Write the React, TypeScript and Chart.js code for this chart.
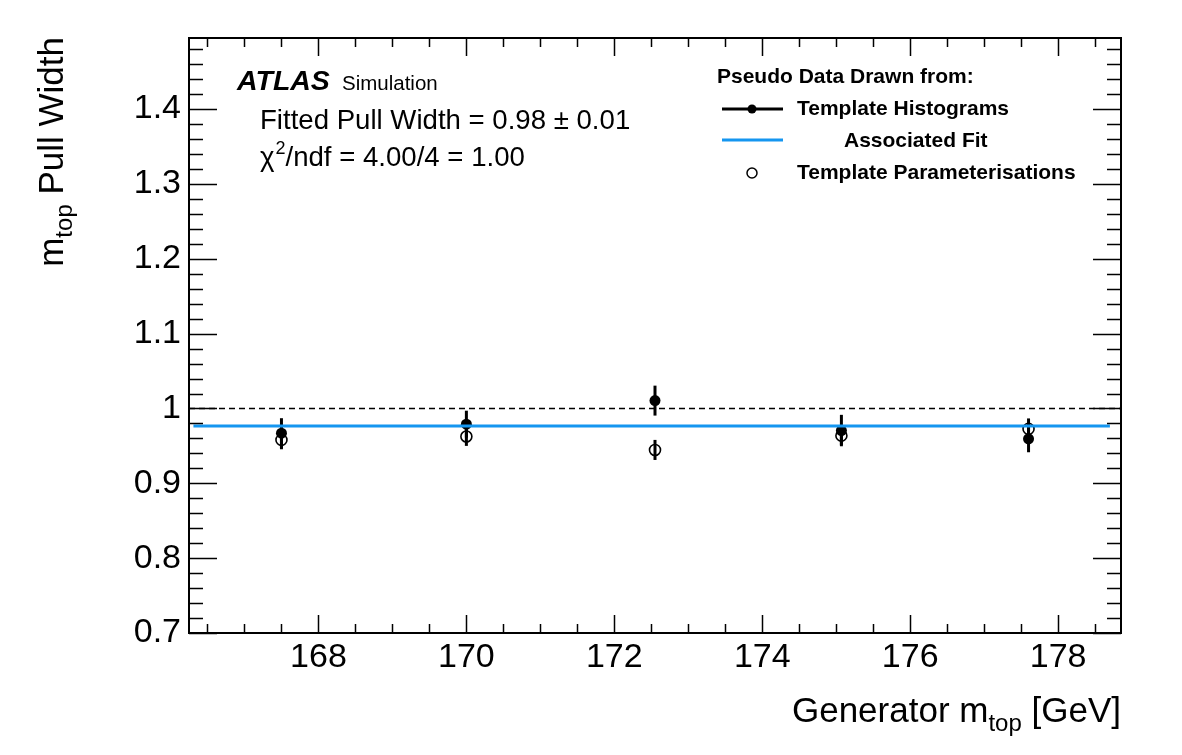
import React, { useEffect, useRef } from "react";
import { Chart, registerables } from "chart.js";

Chart.register(...registerables);

// ---- data ----
const genMass = [167.5, 170.0, 172.55, 175.07, 177.6];
const histWidth = [0.967, 0.979, 1.0105, 0.9705, 0.9595];
const histErr = [0.02, 0.018, 0.02, 0.021, 0.018];
const paramMass = [167.5, 170.0, 172.55, 175.07, 177.6];
const paramWidth = [0.958, 0.9625, 0.9446, 0.9637, 0.9727];
const paramErr = [0.0125, 0.0125, 0.0134, 0.0125, 0.014];
const fitValue = 0.9767;
const fitRange = [166.31, 178.7];
const referenceValue = 1.0;
const xRange = [166.25, 178.85];
const yRange = [0.7, 1.495];
const xTickValues = [168, 170, 172, 174, 176, 178];
const yTickValues = [0.7, 0.8, 0.9, 1.0, 1.1, 1.2, 1.3, 1.4];
const xMinorStep = 0.5;
const yMinorStep = 0.02;

const FONT = "'Liberation Sans', Arial, Helvetica, sans-serif";
const BLUE = "#1596f0";

const overlayPlugin = {
  id: "rootStyle",
  beforeDatasetsDraw(chart: any) {
    const ctx = chart.ctx;
    const xs = chart.scales.x;
    const ys = chart.scales.y;
    ctx.save();
    ctx.strokeStyle = "#000";
    ctx.lineWidth = 3;
    const bars = (xv: number[], yv: number[], ev: number[]) => {
      for (let i = 0; i < xv.length; i++) {
        const px = xs.getPixelForValue(xv[i]);
        ctx.beginPath();
        ctx.moveTo(px, ys.getPixelForValue(yv[i] - ev[i]));
        ctx.lineTo(px, ys.getPixelForValue(yv[i] + ev[i]));
        ctx.stroke();
      }
    };
    bars(paramMass, paramWidth, paramErr);
    bars(genMass, histWidth, histErr);
    ctx.restore();
  },
  afterDraw(chart: any) {
    const ctx = chart.ctx;
    const a = chart.chartArea;
    const xs = chart.scales.x;
    const ys = chart.scales.y;
    ctx.save();
    // frame
    ctx.strokeStyle = "#000";
    ctx.lineWidth = 2;
    ctx.strokeRect(a.left, a.top, a.right - a.left, a.bottom - a.top);
    // x ticks
    ctx.lineWidth = 1.5;
    const x0 = Math.ceil(xs.min / xMinorStep) * xMinorStep;
    for (let v = x0; v <= xs.max + 1e-9; v += xMinorStep) {
      const major = xTickValues.some((t) => Math.abs(t - v) < 1e-6);
      const len = major ? 18 : 9;
      const px = Math.round(xs.getPixelForValue(v)) + 0.5;
      ctx.beginPath();
      ctx.moveTo(px, a.bottom);
      ctx.lineTo(px, a.bottom - len);
      ctx.moveTo(px, a.top);
      ctx.lineTo(px, a.top + len);
      ctx.stroke();
    }
    // y ticks
    const y0 = Math.ceil(ys.min / yMinorStep - 1e-6) * yMinorStep;
    for (let v = y0; v <= ys.max + 1e-9; v += yMinorStep) {
      const major = yTickValues.some((t) => Math.abs(t - v) < 1e-6);
      const len = major ? 28 : 14;
      const py = Math.round(ys.getPixelForValue(v)) + 0.5;
      ctx.beginPath();
      ctx.moveTo(a.left, py);
      ctx.lineTo(a.left + len, py);
      ctx.moveTo(a.right, py);
      ctx.lineTo(a.right - len, py);
      ctx.stroke();
    }

    ctx.fillStyle = "#000";
    ctx.textBaseline = "alphabetic";
    // x axis title (right aligned)
    const tSize = 35;
    const subSize = 24;
    const t1 = "Generator m";
    const t2 = "top";
    const t3 = " [GeV]";
    ctx.font = `${tSize}px ${FONT}`;
    const w1 = ctx.measureText(t1).width;
    const w3 = ctx.measureText(t3).width;
    ctx.font = `${subSize}px ${FONT}`;
    const w2 = ctx.measureText(t2).width;
    const xEnd = a.right;
    const xBase = 722;
    let cx = xEnd - (w1 + w2 + w3);
    ctx.font = `${tSize}px ${FONT}`;
    ctx.fillText(t1, cx, xBase);
    cx += w1;
    ctx.font = `${subSize}px ${FONT}`;
    ctx.fillText(t2, cx, xBase + 9);
    cx += w2;
    ctx.font = `${tSize}px ${FONT}`;
    ctx.fillText(t3, cx, xBase);

    // y axis title (rotated), right-aligned at top of frame
    ctx.save();
    ctx.translate(63, a.top);
    ctx.rotate(-Math.PI / 2);
    const y1 = "m";
    const y2 = "top";
    const y3 = " Pull Width";
    ctx.font = `${tSize}px ${FONT}`;
    const v1 = ctx.measureText(y1).width;
    const v3 = ctx.measureText(y3).width;
    ctx.font = `${subSize}px ${FONT}`;
    const v2 = ctx.measureText(y2).width;
    let cy = -(v1 + v2 + v3) + 1;
    ctx.font = `${tSize}px ${FONT}`;
    ctx.fillText(y1, cy, 0);
    cy += v1;
    ctx.font = `${subSize}px ${FONT}`;
    ctx.fillText(y2, cy, 9);
    cy += v2;
    ctx.font = `${tSize}px ${FONT}`;
    ctx.fillText(y3, cy, 0);
    ctx.restore();

    // ATLAS label
    ctx.font = `italic bold 28.5px ${FONT}`;
    ctx.fillText("ATLAS", 237, 90);
    ctx.font = `20.5px ${FONT}`;
    ctx.fillText("Simulation", 342, 90);
    ctx.font = `27.6px ${FONT}`;
    ctx.fillText("Fitted Pull Width = 0.98 \u00b1 0.01", 260, 129);
    // chi2 line
    ctx.fillText("\u03c7", 260, 166);
    const wc = ctx.measureText("\u03c7").width;
    ctx.font = `18px ${FONT}`;
    ctx.fillText("2", 260 + wc + 1, 154);
    const w2s = ctx.measureText("2").width;
    ctx.font = `27.6px ${FONT}`;
    ctx.fillText("/ndf = 4.00/4 = 1.00", 260 + wc + 1 + w2s, 166);

    // legend
    ctx.font = `bold 21px ${FONT}`;
    ctx.fillText("Pseudo Data Drawn from:", 717, 83);
    ctx.fillText("Template Histograms", 797, 115);
    ctx.fillText("Associated Fit", 844, 147);
    ctx.fillText("Template Parameterisations", 797, 179);
    // legend symbols
    ctx.strokeStyle = "#000";
    ctx.lineWidth = 3;
    ctx.beginPath();
    ctx.moveTo(722, 109);
    ctx.lineTo(783, 109);
    ctx.stroke();
    ctx.beginPath();
    ctx.arc(752, 109, 4.5, 0, Math.PI * 2);
    ctx.fill();
    ctx.strokeStyle = BLUE;
    ctx.beginPath();
    ctx.moveTo(722, 140);
    ctx.lineTo(783, 140);
    ctx.stroke();
    ctx.strokeStyle = "#000";
    ctx.lineWidth = 1.5;
    ctx.beginPath();
    ctx.arc(752, 173, 5, 0, Math.PI * 2);
    ctx.stroke();
    ctx.restore();
  },
};

export default function App() {
  const ref = useRef<HTMLCanvasElement>(null);
  useEffect(() => {
    document.body.style.margin = "0";
    const canvas = ref.current!;
    const chart = new Chart(canvas, {
      type: "scatter",
      data: {
        datasets: [
          {
            type: "line",
            label: "Associated Fit",
            data: [
              { x: fitRange[0], y: fitValue },
              { x: fitRange[1], y: fitValue },
            ],
            borderColor: BLUE,
            borderWidth: 3,
            pointRadius: 0,
            fill: false,
          },
          {
            label: "Template Parameterisations",
            data: paramMass.map((x, i) => ({ x, y: paramWidth[i] })),
            pointStyle: "circle",
            pointRadius: 5.5,
            pointBorderWidth: 1.6,
            borderColor: "#000",
            backgroundColor: "rgba(0,0,0,0)",
          },
          {
            label: "Template Histograms",
            data: genMass.map((x, i) => ({ x, y: histWidth[i] })),
            pointStyle: "circle",
            pointRadius: 5.5,
            pointBorderWidth: 0,
            borderColor: "#000",
            backgroundColor: "#000",
          },
          {
            type: "line",
            label: "ref",
            data: [
              { x: xRange[0], y: referenceValue },
              { x: xRange[1], y: referenceValue },
            ],
            borderColor: "#000",
            borderWidth: 1.5,
            borderDash: [6, 4],
            pointRadius: 0,
            fill: false,
          },
        ],
      },
      plugins: [overlayPlugin],
      options: {
        animation: false,
        responsive: false,
        maintainAspectRatio: false,
        layout: { padding: { top: 38, right: 61, left: 0, bottom: 0 } },
        plugins: {
          legend: { display: false },
          tooltip: { enabled: false },
        },
        scales: {
          x: {
            type: "linear",
            min: xRange[0],
            max: xRange[1],
            afterBuildTicks: (s: any) => {
              s.ticks = xTickValues.map((v) => ({ value: v }));
            },
            afterFit: (s: any) => {
              s.height = 755 - 633;
            },
            grid: { display: false, drawTicks: false },
            border: { display: false },
            ticks: {
              padding: 4,
              color: "#000",
              font: { family: FONT, size: 34 },
              maxRotation: 0,
              autoSkip: false,
              callback: (v: any) => String(v),
            },
          },
          y: {
            type: "linear",
            min: yRange[0],
            max: yRange[1],
            afterBuildTicks: (s: any) => {
              s.ticks = yTickValues.map((v) => ({ value: v }));
            },
            afterFit: (s: any) => {
              s.width = 189;
            },
            grid: { display: false, drawTicks: false },
            border: { display: false },
            ticks: {
              padding: 8,
              color: "#000",
              font: { family: FONT, size: 34 },
              autoSkip: false,
              callback: (v: any) =>
                Math.abs(v - 1) < 1e-9 ? "1" : Number(v).toFixed(1),
            },
          },
        },
      },
    });
    return () => chart.destroy();
  }, []);
  return (
    <div style={{ position: "absolute", left: 0, top: 0, width: 1182, height: 755, background: "#fff" }}>
      <canvas ref={ref} width={1182} height={755} style={{ width: 1182, height: 755 }} />
    </div>
  );
}
